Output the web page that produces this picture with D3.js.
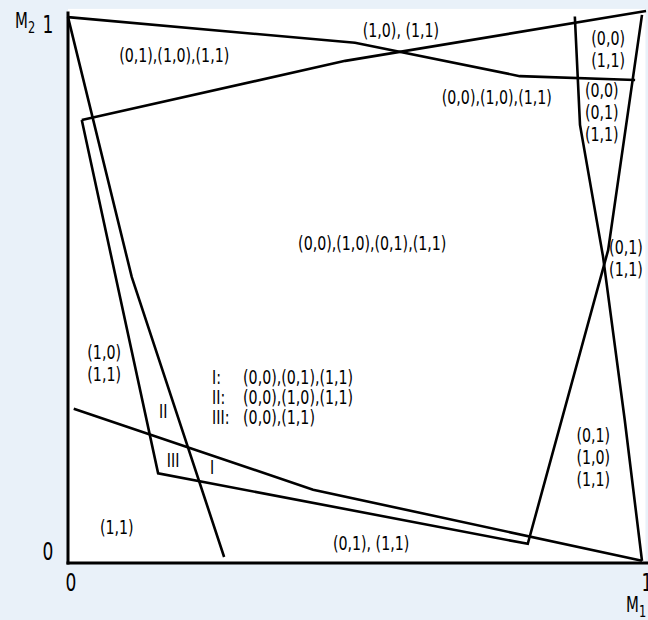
<!DOCTYPE html>
<html>
<head>
<meta charset="utf-8">
<script src="https://cdn.jsdelivr.net/npm/d3@7"></script>
<style>
  body { margin: 0; background: #e9f1f9; }
  svg { display: block; font-family: "DejaVu Sans Condensed", "Liberation Sans", sans-serif; }
</style>
</head>
<body>
<div id="chart"></div>
<script>
// boundary curves in (M1, M2) units
const curveTop = [[0, 0.998], [0.5, 0.951], [0.787, 0.890], [0.988, 0.883]];
const curveRising = [[0.024, 0.810], [0.483, 0.918], [1.007, 1.009]];
const curveSteepLeft = [[0, 0.998], [0.111, 0.523], [0.272, 0.011]];
const curveInner = [[0.024, 0.810], [0.157, 0.164], [0.801, 0.035], [0.941, 0.572], [1.0, 1.002]];
const curveBottom = [[0.010, 0.282], [0.427, 0.134], [1.0, 0.004]];
const curveRight = [[0.883, 0.999], [0.892, 0.801], [0.932, 0.561], [0.970, 0.261], [1.0, 0.004]];
const curves = [curveTop, curveRising, curveSteepLeft, curveInner, curveBottom, curveRight];

// region labels: [text lines, M1, M2 of first line]
const regionText = [
  [["(0,1),(1,0),(1,1)"], 0.185, 0.929],
  [["(1,0), (1,1)"], 0.580, 0.974],
  [["(0,0)", "(1,1)"], 0.941, 0.960],
  [["(0,0),(1,0),(1,1)"], 0.747, 0.852],
  [["(0,0)", "(0,1)", "(1,1)"], 0.930, 0.865],
  [["(0,0),(1,0),(0,1),(1,1)"], 0.530, 0.585],
  [["(0,1)", "(1,1)"], 0.972, 0.578],
  [["(1,0)", "(1,1)"], 0.063, 0.386],
  [["II"], 0.166, 0.278],
  [["III"], 0.183, 0.188],
  [["I"], 0.251, 0.176],
  [["(1,1)"], 0.085, 0.066],
  [["(0,1), (1,1)"], 0.528, 0.037],
  [["(0,1)", "(1,0)", "(1,1)"], 0.915, 0.234]
];

const keyNames = ["I:", "II:", "III:"];
const keySets = ["(0,0),(0,1),(1,1)", "(0,0),(1,0),(1,1)", "(0,0),(1,1)"];

const xTicks = [0, 1];
const yTicks = [0, 1];

const width = 648, height = 620;
const squeeze = 0.79;   // the original lettering is much narrower than any installed face

const x = d3.scaleLinear().domain([0, 1]).range([68, 642]);
const y = d3.scaleLinear().domain([0, 1]).range([563, 16]);
const lineStep = 22;

const at = (px, py) => `translate(${px},${py}) scale(${squeeze},1)`;

const svg = d3.select("#chart")
  .append("svg")
  .attr("width", width)
  .attr("height", height);

svg.append("rect")
  .attr("x", x(0))
  .attr("y", y(1.013))
  .attr("width", x(1.006) - x(0))
  .attr("height", y(0) - y(1.013))
  .attr("fill", "#fff");

const line = d3.line().x(d => x(d[0])).y(d => y(d[1]));

svg.append("g")
  .selectAll("path")
  .data(curves)
  .enter()
  .append("path")
  .attr("d", line)
  .attr("fill", "none")
  .attr("stroke", "#000")
  .attr("stroke-width", 2.6);

// axes
svg.append("line")
  .attr("x1", x(0)).attr("x2", x(0))
  .attr("y1", y(1.008)).attr("y2", y(0) + 1.5)
  .attr("stroke", "#000").attr("stroke-width", 3);
svg.append("line")
  .attr("x1", x(0) - 1.5).attr("x2", x(1.012))
  .attr("y1", y(0)).attr("y2", y(0))
  .attr("stroke", "#000").attr("stroke-width", 3);

svg.append("g")
  .selectAll("text")
  .data(xTicks)
  .enter()
  .append("text")
  .attr("transform", d => at(x(d) + (d === 0 ? 3 : 5), y(0) + 20))
  .attr("text-anchor", "middle")
  .attr("dominant-baseline", "central")
  .attr("font-size", 24)
  .text(d => d);

svg.append("g")
  .selectAll("text")
  .data(yTicks)
  .enter()
  .append("text")
  .attr("transform", d => at(x(0) - 20, y(d) + (d === 0 ? -11 : 9)))
  .attr("text-anchor", "middle")
  .attr("dominant-baseline", "central")
  .attr("font-size", 24)
  .text(d => d);

// axis names
const m2 = svg.append("text")
  .attr("transform", at(15, 28))
  .attr("font-size", 21);
m2.append("tspan").text("M");
m2.append("tspan").attr("font-size", 16).attr("dy", 5).text("2");

const m1 = svg.append("text")
  .attr("transform", at(626, 612))
  .attr("font-size", 21);
m1.append("tspan").text("M");
m1.append("tspan").attr("font-size", 16).attr("dy", 5).text("1");

// region labels
const labels = svg.append("g")
  .selectAll("text")
  .data(regionText)
  .enter()
  .append("text")
  .attr("transform", d => at(x(d[1]), y(d[2])))
  .attr("text-anchor", "middle")
  .attr("font-size", 20);

labels.selectAll("tspan")
  .data(d => d[0].map((t, i) => ({ t, i })))
  .enter()
  .append("tspan")
  .attr("x", 0)
  .attr("y", d => d.i * lineStep)
  .attr("dominant-baseline", "central")
  .text(d => d.t);

// key for the three small regions
const key = svg.append("g");
key.selectAll(".keyName")
  .data(keyNames)
  .enter()
  .append("text")
  .attr("class", "keyName")
  .attr("transform", (d, i) => at(x(0.251), y(0.340) + i * 20))
  .attr("dominant-baseline", "central")
  .attr("font-size", 20)
  .text(d => d);

key.selectAll(".keySet")
  .data(keySets)
  .enter()
  .append("text")
  .attr("class", "keySet")
  .attr("transform", (d, i) => at(x(0.305), y(0.340) + i * 20))
  .attr("dominant-baseline", "central")
  .attr("font-size", 20)
  .text(d => d);
</script>
</body>
</html>
